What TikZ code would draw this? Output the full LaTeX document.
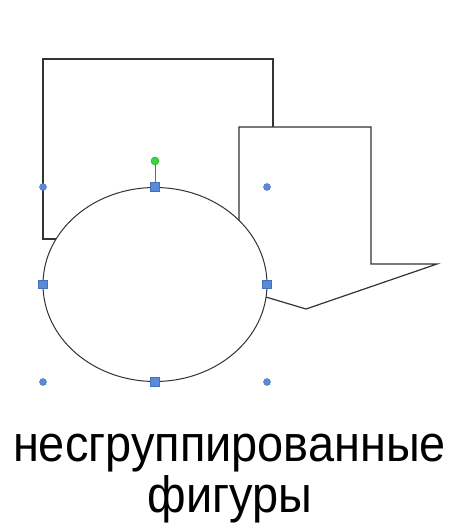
\documentclass[tikz,border=0pt]{standalone}
\usepackage{fontspec}
\setmainfont{Liberation Sans}
\begin{document}
\begin{tikzpicture}[x=1pt,y=-1pt,
  shapeline/.style={draw=black!80,line width=1.2pt,fill=white},
  roundhandle/.style={circle,fill=handleblue,draw=handleedge,line width=0.4pt,inner sep=0pt,minimum size=7pt},
  squarehandle/.style={rectangle,fill=handleblue,draw=handleedge,line width=0.6pt,inner sep=0pt,minimum size=8.5pt},
  rothandle/.style={circle,fill=rotgreen,draw=rotgreen!70!black,line width=0.4pt,inner sep=0pt,minimum size=8pt},
  label/.style={font=\fontsize{51}{55}\selectfont,inner sep=0pt}]
\definecolor{handleblue}{HTML}{5B8BD8}
\definecolor{handleedge}{HTML}{4170BE}
\definecolor{rotgreen}{HTML}{3AD83A}
\useasboundingbox (0,0) rectangle (454,529);
% rectangle at back
\draw[shapeline] (43,59) rectangle (273,239);
% callout shape
\draw[shapeline] (239,127) -- (371,127) -- (371,264) -- (437,264) -- (306,309) -- (239,289) -- cycle;
% ellipse
\draw[shapeline,line width=1pt] (155,284.5) ellipse [x radius=112,y radius=97];
% selection handles
\draw[handleedge,line width=1pt] (155,161) -- (155,187);
\node[roundhandle] (c1) at (43,187) {};
\node[roundhandle] (c2) at (267,187) {};
\node[roundhandle] (c3) at (43,382) {};
\node[roundhandle] (c4) at (267,382) {};
\node[squarehandle] (s1) at (155,187) {};
\node[squarehandle] (s2) at (43,284.5) {};
\node[squarehandle] (s3) at (267,284.5) {};
\node[squarehandle] (s4) at (155,382) {};
\node[rothandle] (g) at (155,161) {};
% caption
\node[label,anchor=base] (t1) at (229.5,461) {\scalebox{0.92}[1]{несгруппированные}};
\node[label,anchor=base] (t2) at (230,512) {\scalebox{0.92}[1]{фигуры}};
\end{tikzpicture}
\end{document}
